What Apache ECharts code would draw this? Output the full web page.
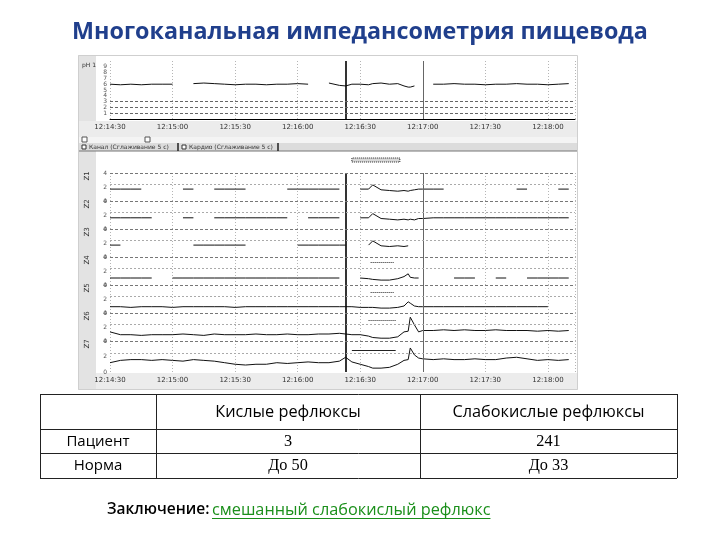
<!DOCTYPE html>
<html><head><meta charset="utf-8">
<script src="https://cdn.jsdelivr.net/npm/echarts@6/dist/echarts.min.js"></script>
<style>html,body{margin:0;padding:0;background:#fff}#c{width:720px;height:540px}</style>
</head><body><div id="c"></div>
<script>
// ---------------- DATA ----------------
const titleText = 'Многоканальная импедансометрия пищевода';
const timeLabels = ['12:14:30','12:15:00','12:15:30','12:16:00','12:16:30','12:17:00','12:17:30','12:18:00'];
// seconds from 12:14:30
const times = [0,5,10,15,20,25,30,35,40,45,50,55,60,65,70,75,80,85,90,95,100,105,110,113,116,120,124,126,130,134,138,141,143,144,146,148,150,155,160,165,170,175,180,185,190,195,200,205,210,215,220];
const phValues = [6.0,5.9,6.0,5.9,6.0,6.0,6.0,null,6.1,6.2,6.1,6.0,5.9,6.0,6.0,5.9,6.0,6.0,6.1,6.0,null,6.2,5.8,5.7,6.0,6.0,5.9,6.1,6.2,6.0,6.1,5.7,5.5,5.5,5.7,null,null,6.0,6.0,6.1,6.0,6.0,5.9,6.0,6.0,6.1,6.0,6.0,5.9,6.0,6.1];
const z1 = [1.7,1.7,1.7,1.7,null,null,null,1.7,1.7,null,1.7,1.7,1.7,1.7,null,null,null,1.7,1.7,1.7,1.7,1.7,1.7,null,null,1.7,1.7,2.3,1.6,1.5,1.4,1.5,1.4,1.5,1.6,1.7,1.7,1.7,1.7,null,null,null,null,null,null,1.7,1.7,null,null,1.7,1.7];
const z2 = [1.6,1.6,1.6,1.6,1.6,null,null,1.6,1.6,null,1.6,1.6,1.6,1.6,1.6,1.6,1.6,1.6,null,1.6,1.6,1.6,1.6,null,null,1.6,1.6,2.2,1.5,1.4,1.3,1.4,1.3,1.4,1.3,1.5,1.5,1.6,1.6,1.6,1.6,1.6,1.6,1.6,1.6,1.6,1.6,1.6,1.6,1.6,1.6];
const z3 = [1.7,1.7,null,null,null,null,null,null,1.7,1.7,1.7,1.7,1.7,1.7,null,null,1.7,null,1.7,1.7,1.7,1.7,1.7,1.7,null,null,1.7,2.3,1.6,1.5,1.6,1.5,1.6,null,null,null,null,null,null,null,null,null,null,null,null,null,null,null,null,null,null];
const z4 = [1.0,1.0,1.0,1.0,1.0,null,1.0,1.0,1.0,1.0,1.0,1.0,1.0,1.0,1.0,1.0,1.0,1.0,1.0,1.0,1.0,1.0,1.0,null,null,1.0,0.9,0.8,0.7,0.7,0.9,1.2,1.6,1.1,1.0,1.0,null,null,null,1.0,1.0,1.0,null,1.0,1.0,null,1.0,1.0,1.0,1.0,1.0];
const z5 = [0.9,0.9,0.8,0.9,0.9,0.9,0.8,0.9,0.9,0.9,0.9,0.9,0.8,0.9,0.9,0.9,0.9,0.9,0.9,0.9,0.9,0.9,0.9,0.9,0.9,0.8,0.8,0.8,0.7,0.7,0.8,1.0,1.6,1.4,1.0,0.9,0.9,0.9,0.9,0.9,0.9,0.9,0.9,0.9,0.9,0.9,0.9,0.9,0.9,null,0.9];
const z6 = [1.3,0.9,0.9,0.8,0.9,0.9,0.9,1.0,0.9,0.8,1.0,0.9,0.9,0.9,1.0,0.9,0.9,1.0,0.9,0.9,1.0,1.0,1.1,1.0,0.9,0.9,0.7,0.5,0.4,0.4,0.6,1.3,1.4,3.4,2.3,1.3,1.5,1.5,1.6,1.5,1.6,1.5,1.5,1.6,1.5,1.5,1.5,1.4,1.5,1.4,1.5];
const z7 = [1.2,1.5,1.6,1.6,1.5,1.6,1.5,1.4,1.6,1.5,1.4,1.2,1.0,0.9,1.0,1.0,1.2,1.1,1.2,1.3,1.2,1.2,1.4,1.9,1.3,1.0,0.7,0.5,0.5,0.6,1.0,1.5,1.6,3.1,2.2,1.8,1.7,1.6,1.7,1.6,1.6,1.7,1.6,1.6,1.8,1.9,1.7,1.5,1.6,1.5,1.6];
const channelNames = ['Z1','Z2','Z3','Z4','Z5','Z6','Z7'];
const channelValues = [z1,z2,z3,z4,z5,z6,z7];
const refluxTime = 113;     // start of reflux episode (s)
const clearanceTime = 150;  // s
const episodeBar = [116, 139];   // detected episode (s)
// bolus markers: channel index, from, to, level
const bolusChannel = [3, 4, 5, 6];
const bolusFrom = [125, 125, 124, 116];
const bolusTo = [136, 136, 137, 137];
const bolusLevel = [3.3, 3.0, 3.0, 2.85];
const tabNames = ['Канал (Сглаживание 5 с)', 'Кардио (Сглаживание 5 с)'];
const tableHeader = ['', 'Кислые рефлюксы', 'Слабокислые рефлюксы'];
const tableRowNames = ['Пациент', 'Норма'];
const acidValues = ['3', 'До 50'];
const weakAcidValues = ['241', 'До 33'];
const conclusionLabel = 'Заключение:';
const conclusionText = 'смешанный слабокислый рефлюкс';

// ---------------- BUILD ----------------
const chart = echarts.init(document.getElementById('c'));
const PL = 110, PR = 145, TMAX = 223;
const pairs = vals => times.map((t, i) => [t, vals[i]]);
const grids = [], xAxes = [], yAxes = [], series = [];
const vLines = [
  {xAxis: refluxTime, lineStyle: {color: '#000', width: 1.6, type: 'solid'}},
  {xAxis: clearanceTime, lineStyle: {color: '#666', width: 1, type: 'solid'}}
];
function xAxisFor(g, showLabels) {
  return {
    type: 'value', gridIndex: g, min: 0, max: TMAX, interval: 30, z: 3,
    axisLine: {show: g === 0, onZero: false, lineStyle: {color: '#000', width: 1}},
    axisTick: {show: false},
    axisLabel: {show: showLabels, fontSize: 7, color: '#333', margin: 5, fontFamily: 'DejaVu Sans',
      formatter: v => (v % 30 === 0 ? timeLabels[v / 30] : '')},
    splitLine: {show: true, lineStyle: {color: '#b5b5b5', type: [1, 2], width: 1}}
  };
}
// top pH panel
grids.push({left: PL, right: PR, top: 61, height: 58});
xAxes.push(xAxisFor(0, true));
yAxes.push({type: 'value', gridIndex: 0, min: 0, max: 10, interval: 1, z: 3,
  axisLine: {show: false}, axisTick: {show: false},
  axisLabel: {fontSize: 6, color: '#555', margin: 3, fontFamily: 'DejaVu Sans'},
  splitLine: {show: false}});
series.push({type: 'line', xAxisIndex: 0, yAxisIndex: 0, data: pairs(phValues), showSymbol: false,
  lineStyle: {color: '#111', width: 1}, connectNulls: false, silent: true,
  markLine: {symbol: 'none', silent: true, label: {show: false},
    data: [...vLines,
      {yAxis: 1, lineStyle: {color: '#666', type: [3, 2], width: 1}},
      {yAxis: 2, lineStyle: {color: '#666', type: [3, 2], width: 1}},
      {yAxis: 3, lineStyle: {color: '#666', type: [3, 2], width: 1}}]}});
// impedance bands
const bandTops = [173, 201, 229, 257, 285, 313, 341];
const bandHeights = [28, 28, 28, 28, 28, 28, 31];
channelValues.forEach((vals, k) => {
  const g = k + 1;
  grids.push({left: PL, right: PR, top: bandTops[k], height: bandHeights[k]});
  xAxes.push(xAxisFor(g, k === 6));
  yAxes.push({type: 'value', gridIndex: g, min: 0, max: 4, interval: 2, z: 3,
    axisLine: {show: false}, axisTick: {show: false},
    axisLabel: {fontSize: 6, color: '#555', margin: 3, fontFamily: 'DejaVu Sans'},
    splitLine: {show: false}});
  const ml = [...vLines,
    {yAxis: 4, lineStyle: {color: '#777', type: [3, 2], width: 1}},
    {yAxis: 2.4, lineStyle: {color: '#aaa', type: [2, 2], width: 1}}];
  bolusChannel.forEach((c, j) => {
    if (c === k) ml.push([
      {coord: [bolusFrom[j], bolusLevel[j]], lineStyle: {color: '#222', width: 1, type: j === 3 ? 'solid' : [1, 1]}},
      {coord: [bolusTo[j], bolusLevel[j]]}]);
  });
  series.push({type: 'line', xAxisIndex: g, yAxisIndex: g, data: pairs(vals), showSymbol: false,
    lineStyle: {color: '#111', width: 1}, connectNulls: false, silent: true,
    markLine: {symbol: 'none', silent: true, label: {show: false}, data: ml}});
});
// episode bar grid
grids.push({left: PL, right: PR, top: 158, height: 4});
xAxes.push({type: 'value', gridIndex: 8, min: 0, max: TMAX, show: false});
yAxes.push({type: 'value', gridIndex: 8, min: 0, max: 1, show: false});
series.push({type: 'line', xAxisIndex: 8, yAxisIndex: 8, data: [[0, null]], silent: true,
  markArea: {silent: true, itemStyle: {color: '#d8d8d8', borderColor: '#222', borderWidth: 1, borderType: 'dotted'},
    data: [[{xAxis: episodeBar[0], yAxis: 0}, {xAxis: episodeBar[1], yAxis: 1}]]}});

// ---------------- DECORATION ----------------
const graphics = [];
const bg = (x, y, w, h, fill, z) => graphics.push({type: 'rect', shape: {x, y, width: w, height: h}, style: {fill}, z: z || 0, silent: true});
bg(78, 55, 500, 335, '#ffffff', 0);
bg(78, 55, 18, 335, '#e3e3e3', 1);
bg(78, 121, 500, 16, '#ececec', 1);
bg(78, 137, 500, 6, '#f4f4f4', 1);
bg(78, 143, 500, 8, '#dcdcdc', 1);
bg(96, 373, 482, 17, '#ececec', 1);
graphics.push({type: 'line', shape: {x1: 78, y1: 151, x2: 578, y2: 151}, style: {stroke: '#777', lineWidth: 1}, z: 2});
graphics.push({type: 'rect', shape: {x: 78.5, y: 55.5, width: 499, height: 334}, style: {fill: 'none', stroke: '#cfcfcf', lineWidth: 1}, z: 2});
// scroll boxes
graphics.push({type: 'rect', shape: {x: 82, y: 137, width: 5, height: 5}, style: {fill: '#fff', stroke: '#555', lineWidth: 1}, z: 2});
graphics.push({type: 'rect', shape: {x: 145, y: 137, width: 5, height: 5}, style: {fill: '#fff', stroke: '#555', lineWidth: 1}, z: 2});
// tabs
[82, 182].forEach((x, i) => {
  graphics.push({type: 'rect', shape: {x: x, y: 145, width: 4, height: 4}, style: {fill: '#fff', stroke: '#333', lineWidth: 1}, z: 3});
  graphics.push({type: 'text', x: x + 7, y: 147, style: {text: tabNames[i], fontSize: 6, fill: '#333', verticalAlign: 'middle', fontFamily: 'DejaVu Sans'}, z: 3});
  graphics.push({type: 'line', shape: {x1: x + 96, y1: 143, x2: x + 96, y2: 151}, style: {stroke: '#222', lineWidth: 1.5}, z: 3});
});
// channel labels
graphics.push({type: 'text', x: 82, y: 62, style: {text: 'pH 1', fontSize: 6, fill: '#333', fontFamily: 'DejaVu Sans'}, z: 3});
channelNames.forEach((n, k) => {
  graphics.push({type: 'text', x: 87, y: bandTops[k] + 3, rotation: Math.PI / 2,
    style: {text: n, fontSize: 7, fill: '#333', align: 'center', verticalAlign: 'middle', fontFamily: 'DejaVu Sans'}, z: 3});
});
// table
const colX = [40, 156, 420, 677], rowY = [394, 429, 453, 478];
rowY.forEach(y => graphics.push({type: 'line', shape: {x1: colX[0], y1: y + 0.5, x2: colX[3], y2: y + 0.5}, style: {stroke: '#222', lineWidth: 1}, z: 3}));
colX.forEach(x => graphics.push({type: 'line', shape: {x1: x + 0.5, y1: rowY[0], x2: x + 0.5, y2: rowY[3]}, style: {stroke: '#222', lineWidth: 1}, z: 3}));
const cx = c => (colX[c] + colX[c + 1]) / 2, cy = r => (rowY[r] + rowY[r + 1]) / 2;
const sans = '"Open Sans", "Noto Sans", sans-serif', serif = '"Liberation Serif", serif';
const cell = (c, r, text, font, size) => graphics.push({type: 'text', x: cx(c), y: cy(r) + 0.5,
  style: {text, fontSize: size, fill: '#000', align: 'center', verticalAlign: 'middle', fontFamily: font}, z: 3});
tableHeader.forEach((h, c) => { if (h) cell(c, 0, h, sans, 16.3); });
tableRowNames.forEach((n, r) => cell(0, r + 1, n, sans, 15));
acidValues.forEach((v, r) => cell(1, r + 1, v, serif, 16.3));
weakAcidValues.forEach((v, r) => cell(2, r + 1, v, serif, 16.3));
// conclusion
graphics.push({type: 'text', x: 107, y: 510, style: {text: conclusionLabel, fontSize: 15.5, fontWeight: 600, fill: '#000', verticalAlign: 'middle', fontFamily: sans}, z: 3});
const ctx = document.createElement('canvas').getContext('2d');
ctx.font = '16.3px "Open Sans"';
const cw = ctx.measureText(conclusionText).width;
graphics.push({type: 'text', x: 212, y: 510, style: {text: conclusionText, fontSize: 16.3, fill: '#1a8f1a', verticalAlign: 'middle', fontFamily: sans}, z: 3});
graphics.push({type: 'line', shape: {x1: 212, y1: 518.5, x2: 212 + cw, y2: 518.5}, style: {stroke: '#1a8f1a', lineWidth: 1}, z: 3});

chart.setOption({
  animation: false,
  backgroundColor: '#fff',
  title: {text: titleText, left: 'center', top: 16,
    textStyle: {fontSize: 23.3, fontWeight: 'bold', color: '#203f8c', fontFamily: sans}},
  grid: grids, xAxis: xAxes, yAxis: yAxes, series,
  graphic: {elements: graphics}
});
</script>
</body></html>
